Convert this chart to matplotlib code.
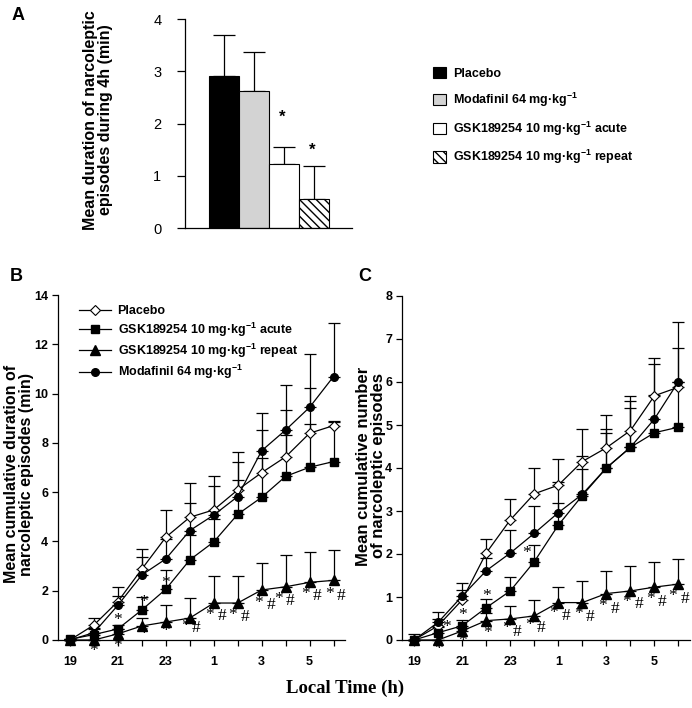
import matplotlib
matplotlib.use("Agg")
import matplotlib.pyplot as plt
import numpy as np
from matplotlib.patches import Patch
from matplotlib.lines import Line2D

plt.rcParams['font.family'] = ['Liberation Sans', 'DejaVu Sans']
plt.rcParams['mathtext.fontset'] = 'custom'
plt.rcParams['mathtext.rm'] = 'Liberation Sans:bold'
plt.rcParams['mathtext.it'] = 'Liberation Sans:bold'
plt.rcParams['mathtext.bf'] = 'Liberation Sans:bold'
plt.rcParams['mathtext.default'] = 'rm'

# ---------------- Panel A data ----------------
bar_labels = ["Placebo", "Modafinil 64 mg·kg$^{-1}$",
              "GSK189254 10 mg·kg$^{-1}$ acute", "GSK189254 10 mg·kg$^{-1}$ repeat"]
bar_values = [2.91, 2.63, 1.23, 0.56]
bar_upper = [3.70, 3.37, 1.55, 1.18]
bar_sig = ["", "", "*", "*"]
bar_sig_y = [0, 0, 2.13, 1.49]

# ---------------- Panels B / C data ----------------
hours = [19, 20, 21, 22, 23, 24, 25, 26, 27, 28, 29, 30]
tick_hours = [19, 21, 23, 25, 27, 29]
tick_labels = ["19", "21", "23", "1", "3", "5"]

series_names = ["Placebo", "GSK189254 10 mg·kg$^{-1}$ acute",
                "GSK189254 10 mg·kg$^{-1}$ repeat", "Modafinil 64 mg·kg$^{-1}$"]

# B: cumulative duration (min)
dur_placebo = [0, 0.61, 1.56, 2.88, 4.17, 4.98, 5.28, 6.09, 6.79, 7.43, 8.39, 8.70]
dur_placebo_up = [0.05, 0.91, 2.14, 3.69, 5.28, 6.36, 6.67, 7.62, 8.52, 9.33, 10.21, 8.90]
dur_acute = [0.03, 0.22, 0.45, 1.22, 2.06, 3.25, 3.98, 5.10, 5.79, 6.64, 7.01, 7.24]
dur_acute_up = [0.05, 0.50, 0.62, 1.73, 2.85, 4.27, 4.90, 6.49, 7.37, 8.32, 8.77, 8.86]
dur_repeat = [0, 0, 0.25, 0.57, 0.73, 0.89, 1.50, 1.50, 2.03, 2.16, 2.34, 2.42]
dur_repeat_up = [0, 0, 0.45, 0.90, 1.42, 1.69, 2.58, 2.58, 3.14, 3.46, 3.56, 3.64]
dur_modaf = [0, 0.30, 1.41, 2.64, 3.29, 4.44, 5.07, 5.82, 7.68, 8.52, 9.44, 10.69]
dur_modaf_up = [0, 0.46, 1.80, 3.35, 4.10, 5.55, 6.26, 7.24, 9.20, 10.35, 11.61, 12.88]

# C: cumulative number of episodes
num_placebo = [0, 0.33, 0.93, 2.02, 2.79, 3.40, 3.60, 4.15, 4.47, 4.87, 5.68, 5.88]
num_placebo_up = [0.13, 0.50, 1.16, 2.36, 3.28, 4.01, 4.20, 4.90, 5.23, 5.68, 6.55, 6.78]
num_acute = [0, 0.17, 0.33, 0.75, 1.14, 1.82, 2.67, 3.36, 4.00, 4.48, 4.82, 4.95]
num_acute_up = [0, 0.30, 0.46, 0.95, 1.47, 2.22, 3.18, 3.97, 4.82, 5.40, 5.70, 6.00]
num_repeat = [0, 0, 0.21, 0.45, 0.49, 0.56, 0.87, 0.87, 1.08, 1.14, 1.23, 1.30]
num_repeat_up = [0, 0, 0.28, 0.62, 0.79, 0.93, 1.24, 1.38, 1.61, 1.71, 1.81, 1.88]
num_modaf = [0, 0.41, 1.02, 1.61, 2.02, 2.48, 2.96, 3.39, 4.00, 4.48, 5.14, 6.01]
num_modaf_up = [0, 0.64, 1.33, 1.90, 2.56, 3.12, 3.68, 4.28, 4.90, 5.55, 6.43, 7.40]

# significance symbols (x in hours, y in data units)
sig_B = [(20.0, -0.45, "*"), (21.0, 0.80, "*"), (21.0, -0.25, "*"),
         (22.05, 1.55, "*"), (22.05, 0.25, "*"), (23.0, 2.33, "*"), (23.0, 0.35, "*"),
         (23.82, 0.55, "*"), (24.28, 0.50, "#"), (24.83, 1.02, "*"), (25.35, 0.97, "#"),
         (25.80, 1.00, "*"), (26.30, 0.95, "#"), (26.89, 1.49, "*"), (27.38, 1.42, "#"),
         (27.71, 1.65, "*"), (28.20, 1.58, "#"), (28.83, 1.87, "*"), (29.32, 1.80, "#"),
         (29.83, 1.87, "*"), (30.32, 1.80, "#")]
sig_C = [(20.0, -0.22, "*"), (20.36, 0.31, "*"), (21.0, 0.58, "*"), (21.0, -0.02, "*"),
         (22.03, 1.02, "*"), (22.06, 0.17, "*"), (22.83, 0.27, "*"), (23.28, 0.19, "#"),
         (23.69, 2.03, "*"), (23.79, 0.35, "*"), (24.28, 0.27, "#"),
         (24.81, 0.62, "*"), (25.32, 0.56, "#"), (25.85, 0.60, "*"), (26.33, 0.53, "#"),
         (26.86, 0.79, "*"), (27.38, 0.71, "#"), (27.86, 0.89, "*"), (28.35, 0.84, "#"),
         (28.83, 0.95, "*"), (29.32, 0.89, "#"), (29.76, 1.02, "*"), (30.26, 0.95, "#")]

W, H = 692, 708
fig = plt.figure(figsize=(W / 100, H / 100), dpi=100)

def fx(px):
    return px / W

def fy(py):
    return 1 - py / H

# ---------------- Panel A ----------------
axA = fig.add_axes([fx(185), fy(228), fx(352 - 185), (228 - 19.3) / H])
colors = ["black", "#d3d3d3", "white", "white"]
hatches = [None, None, None, "\\\\\\\\"]
xpos = np.arange(len(bar_values))
for i, v in enumerate(bar_values):
    axA.bar(xpos[i], v, width=1.0, color=colors[i], edgecolor="black",
            linewidth=0.8, hatch=hatches[i], zorder=2)
    axA.errorbar(xpos[i], v, yerr=[[0], [bar_upper[i] - v]], fmt="none",
                 ecolor="black", elinewidth=0.9, capsize=8, capthick=0.9, zorder=1)
    if bar_sig[i]:
        axA.text(xpos[i] - 0.05, bar_sig_y[i], bar_sig[i], ha="center",
                 va="center", fontsize=12, fontweight="bold")
axA.set_xlim(-1.3, 4.27)
axA.set_ylim(0, 4)
axA.set_yticks([0, 1, 2, 3, 4])
axA.set_xticks([])
axA.spines["top"].set_visible(False)
axA.spines["right"].set_visible(False)
axA.spines["left"].set_linewidth(0.9)
axA.spines["bottom"].set_linewidth(0.9)
axA.tick_params(axis="y", direction="out", length=6, width=0.9, labelsize=10.5, pad=11)
fig.text(fx(98), fy(120), "Mean duration of narcoleptic\nepisodes during 4h (min)",
         rotation=90, ha="center", va="center", fontsize=11.5, fontweight="bold",
         linespacing=1.0)

handlesA = [Patch(facecolor=colors[i], edgecolor="black", hatch=hatches[i], linewidth=0.8)
            for i in range(4)]
fig.legend(handlesA, bar_labels, loc="upper left",
           bbox_to_anchor=(fx(428), fy(62)), frameon=False,
           prop={"weight": "bold", "size": 9}, handlelength=1.0, handleheight=1.0,
           handletextpad=0.6, labelspacing=0.85, borderaxespad=0)

# ---------------- Panels B / C ----------------
def line_panel(ax, ys, ups, sigs, ymax, yticks):
    styles = [dict(marker="D", mfc="white", mec="black", ms=5, mew=0.8),
              dict(marker="s", mfc="black", mec="black", ms=5.5),
              dict(marker="^", mfc="black", mec="black", ms=6.5),
              dict(marker="o", mfc="black", mec="black", ms=5.5)]
    handles = []
    for k in [3, 2, 1, 0]:
        y = np.array(ys[k])
        up = np.array(ups[k])
        ax.errorbar(hours, y, yerr=[np.zeros_like(y), np.maximum(up - y, 0)],
                    fmt="none", ecolor="black", elinewidth=0.9, capsize=4.5,
                    capthick=0.9, zorder=2, clip_on=False)
    for k in [3, 2, 1, 0]:
        ax.plot(hours, ys[k], color="black", lw=0.9, zorder=3 + k,
                clip_on=False, **styles[k])
    for k in range(4):
        handles.append(Line2D([], [], color="black", lw=0.9, **styles[k]))
    for (x, y, s) in sigs:
        ax.text(x, y, s, ha="center", va="center", fontsize=12.5,
                family="Liberation Serif", zorder=6, clip_on=False)
    ax.set_xlim(18.5, 30.48)
    ax.set_ylim(0, ymax)
    ax.set_yticks(yticks)
    ax.set_xticks(hours)
    ax.set_xticklabels([tick_labels[tick_hours.index(h)] if h in tick_hours else ""
                        for h in hours])
    ax.spines["top"].set_visible(False)
    ax.spines["right"].set_visible(False)
    ax.spines["left"].set_linewidth(0.9)
    ax.spines["bottom"].set_linewidth(0.9)
    ax.tick_params(direction="out", length=4.5, width=0.9, labelsize=9)
    ax.tick_params(axis="x", pad=7)
    ax.tick_params(axis="y", pad=2.5)
    for t in ax.get_xticklabels() + ax.get_yticklabels():
        t.set_fontweight("bold")
    return handles

axB = fig.add_axes([fx(58), fy(640), fx(345 - 58), (640 - 295) / H])
hB = line_panel(axB, [dur_placebo, dur_acute, dur_repeat, dur_modaf],
                [dur_placebo_up, dur_acute_up, dur_repeat_up, dur_modaf_up],
                sig_B, 14, [0, 2, 4, 6, 8, 10, 12, 14])
fig.text(fx(19), fy(474), "Mean cumulative duration of\nnarcoleptic episodes (min)",
         rotation=90, ha="center", va="center", fontsize=11.5, fontweight="bold",
         linespacing=1.05)
axB.legend(hB, series_names, loc="upper left", bbox_to_anchor=(0.055, 0.985),
           frameon=False, prop={"weight": "bold", "size": 9}, handlelength=2.6,
           handletextpad=0.5, labelspacing=0.25, borderaxespad=0)

axC = fig.add_axes([fx(402), fy(640), fx(690 - 402), (640 - 296) / H])
line_panel(axC, [num_placebo, num_acute, num_repeat, num_modaf],
           [num_placebo_up, num_acute_up, num_repeat_up, num_modaf_up],
           sig_C, 8, [0, 1, 2, 3, 4, 5, 6, 7, 8])
fig.text(fx(371), fy(466), "Mean cumulative number\nof narcoleptic episodes",
         rotation=90, ha="center", va="center", fontsize=12, fontweight="bold",
         linespacing=1.0)

# panel letters and shared x label
fig.text(fx(12), fy(7), "A", fontsize=13, fontweight="bold", va="top")
fig.text(fx(10), fy(268), "B", fontsize=13, fontweight="bold", va="top")
fig.text(fx(358), fy(268), "C", fontsize=13, fontweight="bold", va="top")
fig.text(fx(345), fy(688), "Local Time (h)", fontsize=13.5, fontweight="bold",
         family="Liberation Serif", ha="center", va="center")

fig.savefig("out.png", dpi=100)
